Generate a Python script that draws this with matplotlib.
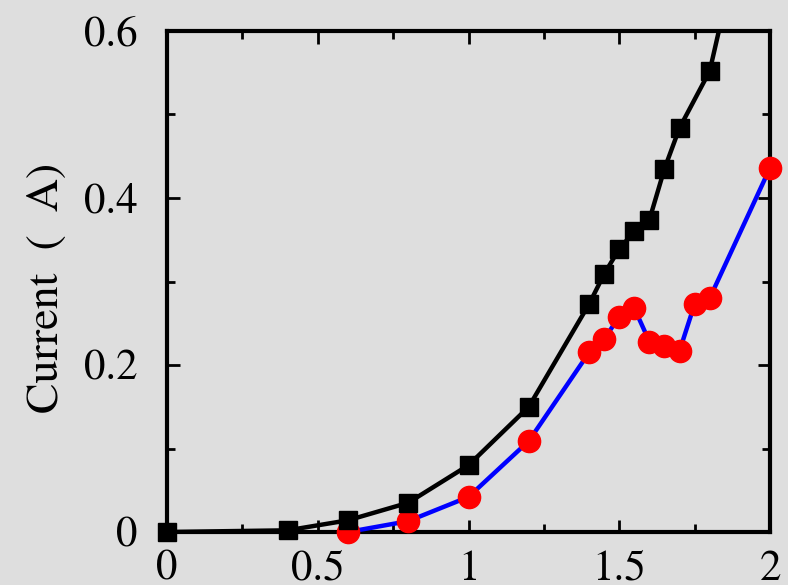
import matplotlib
matplotlib.use("Agg")
import matplotlib.pyplot as plt
from matplotlib.ticker import MultipleLocator

# black squares series
sq_x = [0, 0.4, 0.6, 0.8, 1.0, 1.2, 1.4, 1.45, 1.5, 1.55, 1.6, 1.65, 1.7, 1.8, 1.9]
sq_y = [0.0, 0.002, 0.014, 0.035, 0.080, 0.150, 0.273, 0.309, 0.339, 0.360, 0.374, 0.435, 0.484, 0.552, 0.71]

# red circles series
ci_x = [0.6, 0.8, 1.0, 1.2, 1.4, 1.45, 1.5, 1.55, 1.6, 1.65, 1.7, 1.75, 1.8, 2.0]
ci_y = [0.0, 0.013, 0.042, 0.109, 0.215, 0.231, 0.258, 0.268, 0.228, 0.223, 0.217, 0.273, 0.280, 0.436]

x_ticks = [0, 0.5, 1, 1.5, 2]
x_labels = ["0", "0.5", "1", "1.5", "2"]
y_ticks = [0, 0.2, 0.4, 0.6]
y_labels = ["0", "0.2", "0.4", "0.6"]

BG = "#dedede"
plt.rcParams["font.family"] = ["STIXGeneral", "DejaVu Serif"]

fig = plt.figure(figsize=(7.88, 5.85), dpi=100, facecolor=BG)
ax = fig.add_axes([167 / 788, 53 / 585, 603 / 788, 501 / 585], facecolor=BG)

ymax = 0.6
ax.plot(ci_x, ci_y, color="#0000ff", lw=3.2, zorder=3)
ax.plot(ci_x, ci_y, ls="none", marker="o", ms=16, mfc="#ff0000", mec="#ff0000",
        zorder=4, clip_on=False)
ax.plot(sq_x, sq_y, color="black", lw=3.2, zorder=5)
# markers outside the y range stay hidden, the rest may overlap the frame
sq_in = [(x, y) for x, y in zip(sq_x, sq_y) if y <= ymax]
ax.plot([p[0] for p in sq_in], [p[1] for p in sq_in], ls="none", marker="s", ms=13,
        mfc="black", mec="black", zorder=6, clip_on=False)

ax.set_xlim(0, 2)
ax.set_ylim(0, ymax)
ax.set_xticks(x_ticks)
ax.set_xticklabels(x_labels)
ax.set_yticks(y_ticks)
ax.set_yticklabels(y_labels)
ax.xaxis.set_minor_locator(MultipleLocator(0.25))
ax.yaxis.set_minor_locator(MultipleLocator(0.1))

ax.tick_params(which="both", direction="in", top=True, right=True,
               width=2, labelsize=31, color="black")
ax.tick_params(which="major", length=9)
ax.tick_params(which="minor", length=6)
ax.tick_params(axis="y", which="major", pad=21)
ax.tick_params(axis="x", which="major", pad=13)

for sp in ax.spines.values():
    sp.set_linewidth(3)

ax.set_ylabel("Current  (  A)", fontsize=33)
ax.yaxis.set_label_coords(-0.165, 0.488)

fig.savefig("out.png", dpi=100, facecolor=BG)
